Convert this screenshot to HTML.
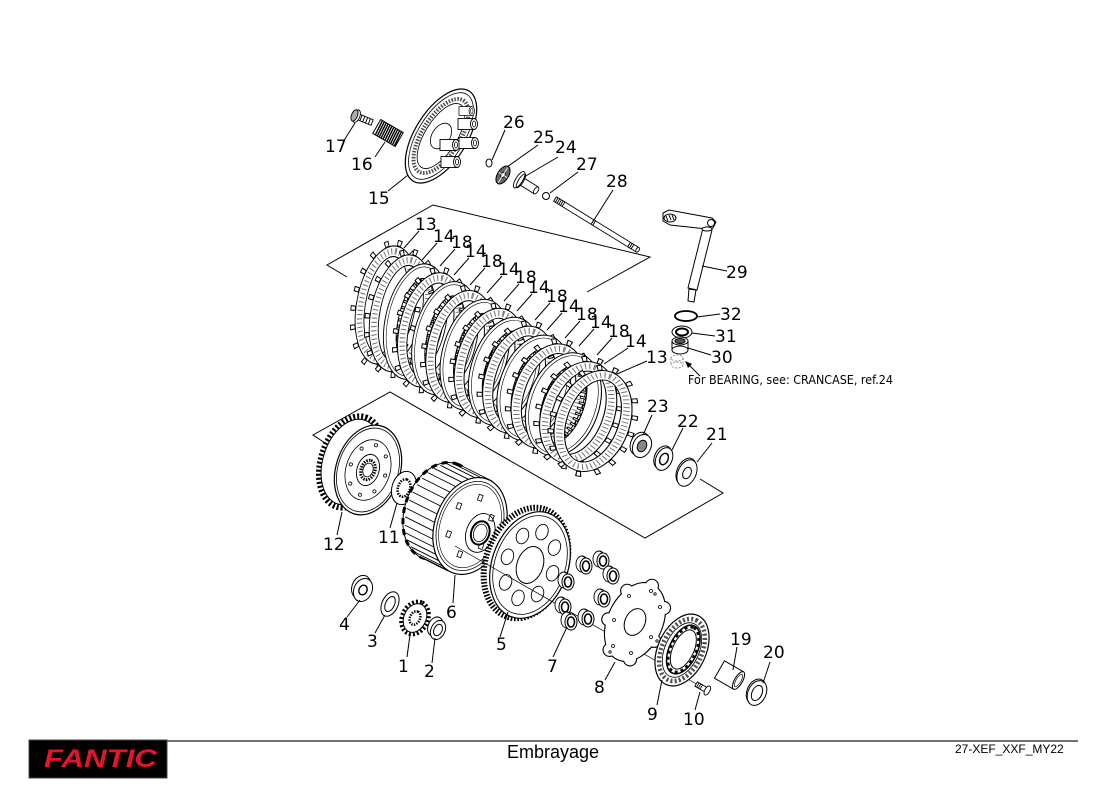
<!DOCTYPE html>
<html><head><meta charset="utf-8"><style>
html,body{margin:0;padding:0;background:#fff;}
svg{display:block;}
.l{font-family:"DejaVu Sans","Liberation Sans",sans-serif;font-size:17px;fill:#000;}
</style></head><body>
<svg width="1100" height="800" viewBox="0 0 1100 800" xmlns="http://www.w3.org/2000/svg">
<defs>
<g id="fric">
 <ellipse rx="59" ry="36" fill="none" stroke="#000" stroke-width="6" stroke-dasharray="5 13"/>
 <ellipse rx="59" ry="36" fill="none" stroke="#fff" stroke-width="4" stroke-dasharray="3 15" stroke-dashoffset="-1"/>
 <ellipse rx="51" ry="28" fill="none" stroke="#fff" stroke-width="10"/>
 <ellipse rx="56" ry="33" fill="none" stroke="#000" stroke-width="1"/>
 <ellipse rx="51" ry="28" fill="none" stroke="#000" stroke-width="6" stroke-dasharray="1 3" stroke-opacity=".55"/>
 <ellipse rx="46" ry="23" fill="none" stroke="#000" stroke-width="1"/>
</g>
<g id="steel">
 <ellipse rx="49" ry="26" fill="none" stroke="#fff" stroke-width="14"/>
 <ellipse rx="56" ry="33" fill="none" stroke="#000" stroke-width="1"/>
 <ellipse rx="53" ry="30" fill="none" stroke="#000" stroke-width=".6"/>
 <ellipse rx="42" ry="19" fill="none" stroke="#000" stroke-width="1"/>
 <ellipse rx="39" ry="16" fill="none" stroke="#000" stroke-width="6" stroke-dasharray="3 3"/>
 <ellipse rx="39" ry="16" fill="none" stroke="#fff" stroke-width="4" stroke-dasharray="1 5" stroke-dashoffset="-1"/>
</g>
<g id="bush">
 <ellipse cx="-4" cy="-2" rx="6" ry="8" fill="#fff" stroke="#000" stroke-width=".9"/>
 <polygon points="-4,-10 0,-8 0,8 -4,6" fill="#fff"/>
 <line x1="-4" y1="-10" x2="0" y2="-8" stroke="#000" stroke-width=".9"/>
 <line x1="-4" y1="6" x2="0" y2="8" stroke="#000" stroke-width=".9"/>
 <ellipse rx="6" ry="8" fill="#fff" stroke="#000" stroke-width="1"/>
 <ellipse rx="3.5" ry="5" fill="none" stroke="#000" stroke-width="1.6"/>
</g>
<g id="boss">
 <rect x="0" y="-5.5" width="16" height="11" fill="#fff" stroke="#000" stroke-width=".9"/>
 <ellipse cx="16" cy="0" rx="3.5" ry="5.5" fill="#fff" stroke="#000" stroke-width=".9"/>
 <ellipse cx="16" cy="0" rx="1.5" ry="3" fill="none" stroke="#000" stroke-width=".8"/>
</g>
<g id="p8shape">
 <circle cx="16.9" cy="-36.2" r="6"/><circle cx="29" cy="-14" r="6"/><circle cx="19.1" cy="18.8" r="6"/><circle cx="-5" cy="37.4" r="6"/>
 <circle cx="-25.4" cy="27.9" r="6"/><circle cx="-26.7" cy="-2.6" r="6"/><circle cx="-7.8" cy="-31.2" r="6"/>
 <ellipse rx="41" ry="27" transform="rotate(-65)"/>
</g>
</defs>

<!-- box lines -->
<g stroke="#000" stroke-width="1" fill="none">
 <polyline points="347,277 327,265 433,205 650,257 587,292"/>
 <polyline points="325,443 313,435 390,392 645,538 723,493 700,479"/>
</g>

<!-- 17 bolt -->
<g transform="translate(361 118) rotate(22)" stroke="#000" stroke-width=".9">
 <rect x="-4" y="-3" width="16" height="6" fill="#fff"/>
 <path d="M0,-3v6M3,-3v6M6,-3v6M9,-3v6"/>
 <ellipse cx="-5" cy="0" rx="3.5" ry="6.5" fill="#fff"/>
 <ellipse cx="-7" cy="0" rx="3" ry="6" fill="#aaa"/>
</g>
<!-- 16 spring -->
<g transform="translate(388 133) rotate(30)" stroke="#000">
 <rect x="-13" y="-8" width="26" height="16" fill="#fff" stroke-width="1"/>
 <path d="M-11,-8l1,16M-8.8,-8l1,16M-6.6,-8l1,16M-4.4,-8l1,16M-2.2,-8l1,16M0,-8l1,16M2.2,-8l1,16M4.4,-8l1,16M6.6,-8l1,16M8.8,-8l1,16M11,-8l1,16" stroke-width="1.4"/>
</g>
<!-- 15 pressure plate -->
<g transform="translate(441 136) rotate(-58)" fill="none" stroke="#000">
 <ellipse rx="53" ry="26" fill="#fff" stroke-width="1.2"/>
 <ellipse rx="49" ry="23" stroke-width=".8"/>
 <ellipse rx="42" ry="19" stroke-width="4" stroke-dasharray="1.5 1.5" stroke-opacity=".7"/>
 <ellipse rx="37" ry="16" stroke-width=".8"/>
 <ellipse rx="14" ry="9" stroke-width=".8"/>
</g>
<use href="#boss" transform="translate(459 111) scale(.8)"/>
<use href="#boss" transform="translate(458 124)"/>
<use href="#boss" transform="translate(440 145)"/>
<use href="#boss" transform="translate(459 143)"/>
<use href="#boss" transform="translate(441 162)"/>

<!-- 26,25,24,27,28 -->
<ellipse cx="489" cy="163" rx="3" ry="4" fill="none" stroke="#000"/>
<g transform="translate(503 175) rotate(-58)" stroke="#000">
 <ellipse rx="10" ry="5.5" fill="#666"/>
 <ellipse rx="3" ry="2" fill="#fff"/>
 <path d="M-9,0h18M0,-5v10" stroke="#fff" stroke-width=".8"/>
</g>
<g transform="translate(526 184) rotate(32)" stroke="#000" stroke-width=".9">
 <rect x="-7" y="-4" width="19" height="8" fill="#fff"/>
 <ellipse cx="12" cy="0" rx="2" ry="4" fill="#fff"/>
 <ellipse cx="-8" cy="0" rx="3.5" ry="9.5" fill="#fff"/>
 <ellipse cx="-6" cy="0" rx="2.5" ry="8" fill="none"/>
</g>
<circle cx="546" cy="196" r="3.5" fill="#fff" stroke="#000"/>
<g transform="translate(555 199) rotate(31.6)" stroke="#000" stroke-width=".9">
 <rect x="0" y="-2.6" width="97" height="5.2" fill="#fff"/>
 <path d="M2,-3v6M4,-3v6M6,-3v6M8,-3v6M10,-3v6M87,-3v6M89,-3v6M91,-3v6M44,-3v6M46,-3v6"/>
 <ellipse cx="97" cy="0" rx="1.5" ry="2.6" fill="#fff"/>
</g>

<!-- clutch plates -->
<use href="#fric" transform="translate(386 305) rotate(-79.5) scale(1.068 .889)"/>
<use href="#fric" transform="translate(400.8 313.3) rotate(-78.75) scale(1.058 .905)"/>
<use href="#steel" transform="translate(415.6 321.6) rotate(-78) scale(1.048 .921)"/>
<use href="#fric" transform="translate(430.4 329.9) rotate(-77.25) scale(1.039 .937)"/>
<use href="#steel" transform="translate(445.1 338.1) rotate(-76.5) scale(1.029 .952)"/>
<use href="#fric" transform="translate(459.9 346.4) rotate(-75.75) scale(1.019 .968)"/>
<use href="#steel" transform="translate(474.7 354.7) rotate(-75) scale(1.01 .984)"/>
<use href="#fric" transform="translate(489.5 363) rotate(-74.25)"/>
<use href="#steel" transform="translate(504.3 371.3) rotate(-73.5) scale(.99 1.016)"/>
<use href="#fric" transform="translate(519.1 379.6) rotate(-72.75) scale(.981 1.032)"/>
<use href="#steel" transform="translate(533.9 387.9) rotate(-72) scale(.971 1.048)"/>
<use href="#fric" transform="translate(548.6 396.1) rotate(-71.25) scale(.961 1.063)"/>
<use href="#steel" transform="translate(563.4 404.4) rotate(-70.5) scale(.952 1.079)"/>
<use href="#fric" transform="translate(578.2 412.7) rotate(-69.75) scale(.942 1.095)"/>
<use href="#fric" transform="translate(593 421) rotate(-69) scale(.932 1.111)"/>

<!-- 29 lever -->
<g stroke="#000" stroke-width="1" fill="#fff">
 <path d="M663,213 L669,210 L712,218 L716,222 L713,228 L707,229 L670,225 L663,221 Z"/>
 <ellipse cx="670" cy="218" rx="6" ry="4"/>
 <path d="M666,216l2,5M669,215l2,5M672,215l2,5" fill="none"/>
 <circle cx="711" cy="223" r="3.5"/>
 <polygon points="703,228 712,230 697,290 688,288"/>
 <polygon points="696,290 694,302 688,301 689,289"/>
 <ellipse cx="707" cy="229" rx="5" ry="2"/>
</g>
<!-- 32,31,30 -->
<ellipse cx="686" cy="316" rx="11" ry="5" fill="none" stroke="#000" stroke-width="1.8"/>
<g stroke="#000">
 <ellipse cx="682" cy="332" rx="10" ry="6" fill="#fff"/>
 <ellipse cx="682" cy="332" rx="6" ry="3.5" fill="none" stroke-width="2"/>
 <rect x="672" y="341" width="16" height="9" fill="#fff"/>
 <ellipse cx="680" cy="350" rx="8" ry="4" fill="#fff"/>
 <ellipse cx="680" cy="341" rx="8" ry="4" fill="#fff"/>
 <ellipse cx="680" cy="341" rx="5" ry="2.5" fill="#555"/>
</g>
<g stroke="#888" fill="none" stroke-width=".9" stroke-dasharray="2 1.5">
 <ellipse cx="677" cy="358" rx="6" ry="3"/>
 <path d="M671,358v7M683,358v7"/>
 <ellipse cx="677" cy="365" rx="6" ry="3"/>
</g>
<line x1="700" y1="376" x2="688" y2="364" stroke="#000"/>
<polygon points="685,361 692,364 688,368" fill="#000"/>
<text x="688" y="384" font-family="DejaVu Sans, Liberation Sans, sans-serif" font-size="12" textLength="205" lengthAdjust="spacingAndGlyphs">For BEARING, see: CRANCASE, ref.24</text>

<!-- 23,22,21 -->
<g stroke="#000" stroke-width="1">
 <g transform="translate(642 446) rotate(-65)">
  <ellipse cx="1" cy="-3" rx="12" ry="9" fill="#fff"/>
  <ellipse rx="12" ry="9" fill="#fff"/>
  <ellipse rx="6" ry="4.5" fill="#888"/>
 </g>
 <g transform="translate(664 459) rotate(-65)">
  <ellipse cx="1" cy="-2" rx="12" ry="8" fill="#fff"/>
  <ellipse rx="12" ry="8" fill="#fff"/>
  <ellipse rx="6" ry="4" fill="#fff" stroke-width="1.4"/>
 </g>
 <g transform="translate(687 473) rotate(-65)">
  <ellipse cx="1" cy="-1.5" rx="14" ry="9" fill="#fff"/>
  <ellipse rx="14" ry="9" fill="#fff"/>
  <ellipse rx="6" ry="4" fill="#fff"/>
 </g>
</g>

<!-- 12 outer basket/gear -->
<g transform="translate(351 462) rotate(-72)" stroke="#000">
 <ellipse rx="47" ry="30" fill="none" stroke-width="6" stroke-dasharray="2 2"/>
 <ellipse rx="44" ry="28" fill="#fff" stroke-width="1"/>
</g>
<polygon points="388,423 404,430 360,515 343,508" fill="#fff"/>
<g transform="translate(368 470) rotate(-72)" stroke="#000" fill="none">
 <ellipse rx="46" ry="32" fill="#fff" stroke-width="1.2"/>
 <ellipse rx="43" ry="30" stroke-width=".8"/>
 <ellipse rx="31" ry="22" stroke-width=".8"/>
 <g fill="#fff" stroke-width=".8">
  <circle cx="26" cy="0" r="1.6"/><circle cx="18.4" cy="12.7" r="1.6"/><circle cx="0" cy="18" r="1.6"/><circle cx="-18.4" cy="12.7" r="1.6"/>
  <circle cx="-26" cy="0" r="1.6"/><circle cx="-18.4" cy="-12.7" r="1.6"/><circle cx="0" cy="-18" r="1.6"/><circle cx="18.4" cy="-12.7" r="1.6"/>
 </g>
 <ellipse rx="16" ry="11" stroke-width=".9"/>
 <ellipse rx="10" ry="7" stroke-width="3" stroke-dasharray="1.5 1.2"/>
 <ellipse rx="7" ry="5" stroke-width=".8"/>
</g>
<!-- 11 -->
<g transform="translate(404 488) rotate(-72)" stroke="#000">
 <ellipse rx="17" ry="12" fill="#fff"/>
 <ellipse rx="9" ry="6" fill="#fff" stroke-width="2.5" stroke-dasharray="1.5 1.2"/>
</g>

<!-- 6 inner hub -->
<g transform="translate(440 511) rotate(-70)" stroke="#000">
 <ellipse rx="50" ry="35" fill="#fff" stroke-width="1"/>
 <ellipse rx="50" ry="35" fill="none" stroke-width="3" stroke-dasharray="6 5"/>
</g>
<polygon points="462,466 492,481 448,571 418,556" fill="#fff"/>
<g stroke="#000" stroke-width=".9">
 <line x1="462" y1="466" x2="492" y2="481"/>
 <line x1="418" y1="556" x2="448" y2="571"/>
 <path d="M447.5,570.2l-28,-14M442.7,566.1l-28,-14M438.7,560.7l-28,-14M435.7,554.3l-28,-14M433.8,547l-28,-14M432.9,539.1l-28,-14M433.2,530.8l-28,-14M434.6,522.4l-28,-14M437.1,514l-28,-14M440.6,506l-28,-14M444.9,498.6l-28,-14M450,492.1l-28,-14M455.8,486.6l-28,-14M461.9,482.3l-28,-14M468.4,479.3l-28,-14M474.8,477.7l-28,-14M481.1,477.6l-28,-14"/>
</g>
<g transform="translate(470 526) rotate(-70)" stroke="#000" fill="none">
 <ellipse rx="50" ry="35" fill="#fff" stroke-width="1.2"/>
 <ellipse rx="46" ry="32" stroke-width=".8"/>
 <ellipse rx="43" ry="29.5" stroke-width=".6"/>
 <g fill="#fff" stroke-width=".8">
  <rect x="27" y="-2" width="6" height="4"/><rect x="12" y="15.3" width="6" height="4"/><rect x="-18" y="15.3" width="6" height="4"/>
  <rect x="-33" y="-2" width="6" height="4"/><rect x="-18" y="-19.3" width="6" height="4"/><rect x="12" y="-19.3" width="6" height="4"/>
 </g>
 <ellipse cx="-3" cy="12" rx="20" ry="14" stroke-width=".9"/>
 <ellipse cx="-3" cy="12" rx="12" ry="9" fill="#fff" stroke-width="2"/>
 <ellipse cx="-3" cy="12" rx="9" ry="6.5" stroke-width=".8"/>
</g>

<!-- 5 gear -->
<g transform="translate(526 563) rotate(-70)" stroke="#000">
 <ellipse rx="57" ry="40" fill="#fff" stroke-width="6" stroke-dasharray="1.6 1.6"/>
</g>
<g transform="translate(530 565) rotate(-70)" stroke="#000" fill="none">
 <ellipse rx="55" ry="38" fill="#fff" stroke-width="1.2"/>
 <ellipse rx="51" ry="35" stroke-width=".8"/>
 <ellipse rx="19" ry="13" stroke-width="1"/>
 <g fill="#fff" stroke-width=".9">
  <ellipse cx="35" cy="0" rx="8" ry="6"/><ellipse cx="24.7" cy="17" rx="8" ry="6"/><ellipse cx="0" cy="24" rx="8" ry="6"/><ellipse cx="-24.7" cy="17" rx="8" ry="6"/>
  <ellipse cx="-35" cy="0" rx="8" ry="6"/><ellipse cx="-24.7" cy="-17" rx="8" ry="6"/><ellipse cx="0" cy="-24" rx="8" ry="6"/><ellipse cx="24.7" cy="-17" rx="8" ry="6"/>
 </g>
</g>
<line x1="455" y1="546" x2="700" y2="686" stroke="#000" stroke-width=".7"/>

<!-- 7 bushings -->
<use href="#bush" transform="translate(586 566)"/>
<use href="#bush" transform="translate(603 561)"/>
<use href="#bush" transform="translate(613 576)"/>
<use href="#bush" transform="translate(568 582)"/>
<use href="#bush" transform="translate(604 599)"/>
<use href="#bush" transform="translate(565 607)"/>
<use href="#bush" transform="translate(588 619)"/>
<use href="#bush" transform="translate(571 622)"/>

<!-- 8 plate -->
<g transform="translate(635 622)">
 <use href="#p8shape" fill="#fff" stroke="#000" stroke-width="2.2"/>
 <use href="#p8shape" fill="#fff" stroke="none"/>
 <ellipse rx="14" ry="10" transform="rotate(-65)" fill="#fff" stroke="#000" stroke-width="1"/>
</g>
<g fill="none" stroke="#000" stroke-width=".8">
 <circle cx="651" cy="591" r="1.5"/><circle cx="660" cy="607" r="1.5"/><circle cx="651" cy="637" r="1.5"/><circle cx="631" cy="653" r="1.5"/>
 <circle cx="613" cy="646" r="1.5"/><circle cx="614" cy="620" r="1.5"/><circle cx="629" cy="596" r="1.5"/>
 <circle cx="655" cy="594" r="1.2"/><circle cx="657" cy="641" r="1.2"/><circle cx="610" cy="652" r="1.2"/>
</g>

<!-- 9 one-way -->
<g transform="translate(682 650) rotate(-65)" stroke="#000" fill="none">
 <ellipse rx="38" ry="24" fill="#fff" stroke-width="1.2"/>
 <ellipse rx="33" ry="20" stroke-width="4.5" stroke-dasharray="2 2.2" stroke-opacity=".7"/>
 <ellipse rx="29" ry="17" stroke-width=".8"/>
 <ellipse cx="1" cy="1" rx="26" ry="14" fill="#fff" stroke-width="1.5"/>
 <ellipse cx="1" cy="1" rx="24" ry="12.5" stroke-width="2.5" stroke-dasharray="3 3"/>
 <ellipse cx="1" cy="1" rx="21" ry="10.5" stroke-width="1"/>
</g>
<!-- 10 bolt -->
<g transform="translate(703 688) rotate(30)" stroke="#000" stroke-width=".9">
 <rect x="-8" y="-2.5" width="12" height="5" fill="#fff"/>
 <path d="M-6,-2.5v5M-4,-2.5v5M-2,-2.5v5"/>
 <ellipse cx="5" cy="0" rx="2.5" ry="5" fill="#fff"/>
</g>
<!-- 19 sleeve -->
<g transform="translate(729 675) rotate(30)" stroke="#000" stroke-width="1">
 <rect x="-11" y="-10" width="22" height="20" fill="#fff"/>
 <ellipse cx="11" cy="0" rx="4" ry="10" fill="#fff"/>
 <ellipse cx="11" cy="0" rx="2.5" ry="7" fill="none" stroke-width=".7"/>
</g>
<!-- 20 washer -->
<g transform="translate(757 693) rotate(-65)" stroke="#000">
 <ellipse cx="1" cy="-1.5" rx="13" ry="9" fill="#fff"/>
 <ellipse rx="13" ry="9" fill="#fff"/>
 <ellipse rx="8" ry="5" fill="#fff"/>
</g>

<!-- 4,3,1,2 -->
<g stroke="#000">
 <g transform="translate(363 590) rotate(-65)">
  <ellipse cx="2" cy="-3" rx="12" ry="9" fill="#fff"/>
  <ellipse rx="12" ry="9" fill="#fff"/>
  <ellipse rx="5" ry="4" fill="#fff" stroke-width="1.4"/>
 </g>
 <g transform="translate(390 604) rotate(-65)">
  <ellipse rx="13" ry="8" fill="#fff"/>
  <ellipse rx="8" ry="4.5" fill="#fff"/>
 </g>
 <g transform="translate(415 618) rotate(-65)">
  <ellipse rx="17" ry="13" fill="#fff" stroke-width="4" stroke-dasharray="2 2"/>
  <ellipse rx="15" ry="11" fill="#fff"/>
  <ellipse rx="7" ry="5" fill="#fff" stroke-width="2.5" stroke-dasharray="1.4 1.2"/>
 </g>
 <g transform="translate(438 630) rotate(-65)">
  <ellipse cx="2" cy="-4" rx="10" ry="7" fill="#fff"/>
  <ellipse rx="10" ry="7" fill="#fff"/>
  <ellipse rx="6" ry="4" fill="#fff"/>
 </g>
</g>

<!-- leader lines -->
<g stroke="#000" stroke-width="1">
 <line x1="343" y1="142" x2="355" y2="123"/>
 <line x1="375" y1="157" x2="385" y2="142"/>
 <line x1="388" y1="191" x2="408" y2="175"/>
 <line x1="505" y1="130" x2="492" y2="160"/>
 <line x1="538" y1="145" x2="507" y2="167"/>
 <line x1="558" y1="157" x2="524" y2="177"/>
 <line x1="578" y1="172" x2="550" y2="193"/>
 <line x1="613" y1="190" x2="592" y2="223"/>
 <line x1="419" y1="231" x2="404" y2="248"/>
 <line x1="437" y1="243" x2="422" y2="260"/>
 <line x1="455" y1="249" x2="440" y2="266"/>
 <line x1="469" y1="258" x2="454" y2="275"/>
 <line x1="485" y1="268" x2="470" y2="285"/>
 <line x1="502" y1="276" x2="487" y2="293"/>
 <line x1="519" y1="284" x2="504" y2="301"/>
 <line x1="532" y1="294" x2="517" y2="311"/>
 <line x1="550" y1="303" x2="535" y2="320"/>
 <line x1="562" y1="313" x2="547" y2="330"/>
 <line x1="580" y1="321" x2="565" y2="338"/>
 <line x1="594" y1="329" x2="579" y2="346"/>
 <line x1="612" y1="338" x2="597" y2="355"/>
 <line x1="628" y1="348" x2="604" y2="364"/>
 <line x1="647" y1="361" x2="617" y2="374"/>
 <line x1="727" y1="271" x2="702" y2="266"/>
 <line x1="720" y1="314" x2="697" y2="317"/>
 <line x1="715" y1="336" x2="692" y2="333"/>
 <line x1="711" y1="355" x2="688" y2="348"/>
 <line x1="652" y1="415" x2="643" y2="435"/>
 <line x1="683" y1="428" x2="672" y2="450"/>
 <line x1="712" y1="443" x2="697" y2="462"/>
 <line x1="337" y1="535" x2="342" y2="512"/>
 <line x1="390" y1="528" x2="397" y2="503"/>
 <line x1="453" y1="603" x2="455" y2="575"/>
 <line x1="347" y1="617" x2="360" y2="600"/>
 <line x1="375" y1="633" x2="385" y2="615"/>
 <line x1="407" y1="657" x2="410" y2="635"/>
 <line x1="432" y1="663" x2="435" y2="638"/>
 <line x1="500" y1="637" x2="508" y2="612"/>
 <line x1="553" y1="657" x2="567" y2="627"/>
 <line x1="605" y1="680" x2="615" y2="662"/>
 <line x1="657" y1="705" x2="662" y2="680"/>
 <line x1="695" y1="710" x2="700" y2="692"/>
 <line x1="737" y1="647" x2="733" y2="670"/>
 <line x1="770" y1="662" x2="763" y2="683"/>
</g>

<!-- labels -->
<g class="l">
 <text x="325" y="152">17</text>
 <text x="351" y="170">16</text>
 <text x="368" y="204">15</text>
 <text x="503" y="128">26</text>
 <text x="533" y="143">25</text>
 <text x="555" y="153">24</text>
 <text x="576" y="170">27</text>
 <text x="606" y="187">28</text>
 <text x="415" y="230">13</text>
 <text x="433" y="242">14</text>
 <text x="451" y="248">18</text>
 <text x="465" y="257">14</text>
 <text x="481" y="267">18</text>
 <text x="498" y="275">14</text>
 <text x="515" y="283">18</text>
 <text x="528" y="293">14</text>
 <text x="546" y="302">18</text>
 <text x="558" y="312">14</text>
 <text x="576" y="320">18</text>
 <text x="590" y="328">14</text>
 <text x="608" y="337">18</text>
 <text x="625" y="347">14</text>
 <text x="646" y="363">13</text>
 <text x="726" y="278">29</text>
 <text x="720" y="320">32</text>
 <text x="715" y="342">31</text>
 <text x="711" y="363">30</text>
 <text x="647" y="412">23</text>
 <text x="677" y="427">22</text>
 <text x="706" y="440">21</text>
 <text x="323" y="550">12</text>
 <text x="378" y="543">11</text>
 <text x="446" y="618">6</text>
 <text x="339" y="630">4</text>
 <text x="367" y="647">3</text>
 <text x="398" y="672">1</text>
 <text x="424" y="677">2</text>
 <text x="496" y="650">5</text>
 <text x="547" y="672">7</text>
 <text x="594" y="693">8</text>
 <text x="647" y="720">9</text>
 <text x="683" y="725">10</text>
 <text x="730" y="645">19</text>
 <text x="763" y="658">20</text>
</g>

<!-- footer -->
<rect x="29" y="740" width="138" height="38" fill="#000" stroke="#444" stroke-width="1"/>
<text x="44" y="767" font-family="Liberation Sans, sans-serif" font-weight="bold" font-style="italic" font-size="25" fill="#e3152b" textLength="113" lengthAdjust="spacingAndGlyphs">FANTIC</text>
<line x1="167" y1="741" x2="1078" y2="741" stroke="#444" stroke-width="1.5"/>
<text x="553" y="758" text-anchor="middle" font-family="Liberation Sans, sans-serif" font-size="18" fill="#000">Embrayage</text>
<text x="955" y="753" font-family="Liberation Sans, sans-serif" font-size="12" fill="#000">27-XEF_XXF_MY22</text>
</svg>
</body></html>
